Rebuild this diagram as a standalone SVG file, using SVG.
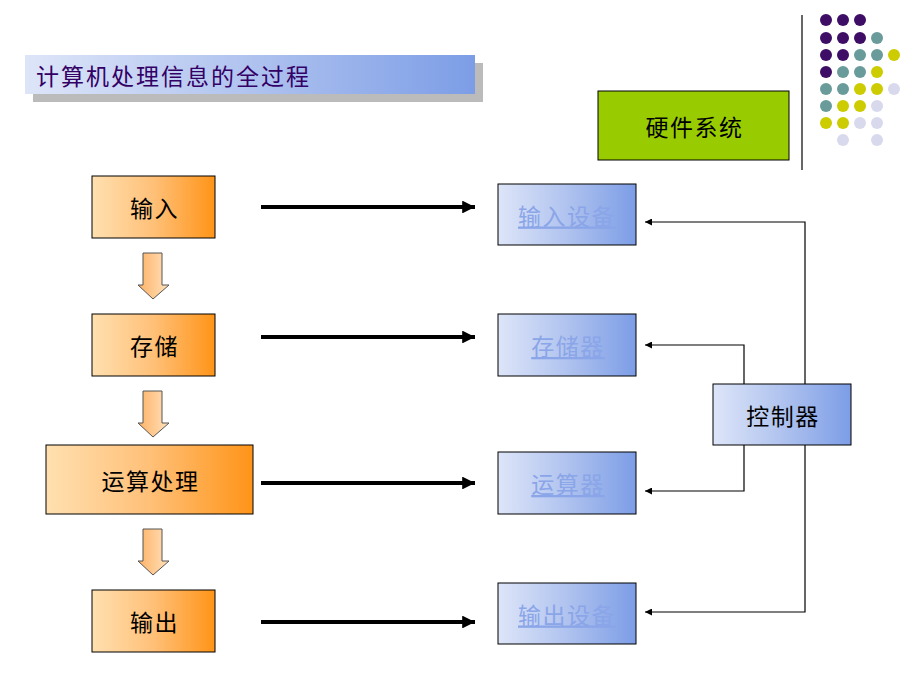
<svg xmlns="http://www.w3.org/2000/svg" width="920" height="690" viewBox="0 0 920 690">
<defs>
<linearGradient id="gOrange" x1="0" y1="0" x2="1" y2="0"><stop offset="0" stop-color="#FFE0B0"/><stop offset="0.5" stop-color="#FFC078"/><stop offset="1" stop-color="#FF9418"/></linearGradient>
<linearGradient id="gBlue" x1="0" y1="0" x2="1" y2="0"><stop offset="0" stop-color="#DDE5F8"/><stop offset="0.5" stop-color="#B0C3EF"/><stop offset="1" stop-color="#7C9DE6"/></linearGradient>
<linearGradient id="gArrow" x1="0" y1="0" x2="1" y2="0"><stop offset="0" stop-color="#FFB266"/><stop offset="1" stop-color="#FFE2BC"/></linearGradient>
<marker id="thick" viewBox="0 0 10 10" refX="10" refY="5" markerWidth="5" markerHeight="3.2" orient="auto" markerUnits="strokeWidth"><path d="M0,0 L10,5 L0,10 Z" fill="#000"/></marker>
<marker id="thin" viewBox="0 0 10 10" refX="10" refY="5" markerWidth="8" markerHeight="7" orient="auto" markerUnits="userSpaceOnUse"><path d="M0,0 L10,5 L0,10 Z" fill="#000"/></marker>
</defs>
<style>
.lbl{font-family:"Noto Sans CJK SC","Noto Sans",sans-serif;font-size:23px;letter-spacing:1.5px;text-anchor:middle;dominant-baseline:central}
.dark{fill:#000}
.link{fill:#8AA5E8;text-decoration:underline}
.obox{fill:url(#gOrange);stroke:#000;stroke-width:1}
.bbox{fill:url(#gBlue);stroke:#000;stroke-width:1}
.thickc{stroke:#000;stroke-width:4;fill:none;marker-end:url(#thick)}
.thinc{stroke:#000;stroke-width:1.2;fill:none;marker-end:url(#thin)}
.darr{fill:url(#gArrow);stroke:#555;stroke-width:1}
.p{fill:#3E0E66}.t{fill:#6A9B9B}.y{fill:#CCCC00}.l{fill:#D9D9EE}
</style>
<rect width="920" height="690" fill="#fff"/>
<g id="title">
<rect x="33" y="63" width="450" height="39" fill="#BBBBBB"/>
<rect x="25" y="55" width="450" height="39" fill="url(#gBlue)"/>
<text x="36" y="75" style="font-family:'Noto Sans CJK SC',sans-serif;font-size:23px;letter-spacing:2px;dominant-baseline:central;fill:#330066">计算机处理信息的全过程</text>
</g>
<g id="decor">
<line x1="802" y1="15" x2="802" y2="170" stroke="#000" stroke-width="1.2"/>
<circle class="p" cx="826" cy="20" r="6"/><circle class="p" cx="843" cy="20" r="6"/><circle class="p" cx="860" cy="20" r="6"/>
<circle class="p" cx="826" cy="38" r="6"/><circle class="p" cx="843" cy="38" r="6"/><circle class="p" cx="860" cy="38" r="6"/><circle class="t" cx="877" cy="38" r="6"/>
<circle class="p" cx="826" cy="55" r="6"/><circle class="p" cx="843" cy="55" r="6"/><circle class="t" cx="860" cy="55" r="6"/><circle class="t" cx="877" cy="55" r="6"/><circle class="y" cx="894" cy="55" r="6"/>
<circle class="p" cx="826" cy="72" r="6"/><circle class="t" cx="843" cy="72" r="6"/><circle class="t" cx="860" cy="72" r="6"/><circle class="y" cx="877" cy="72" r="6"/>
<circle class="t" cx="826" cy="89" r="6"/><circle class="t" cx="843" cy="89" r="6"/><circle class="y" cx="860" cy="89" r="6"/><circle class="y" cx="877" cy="89" r="6"/><circle class="l" cx="894" cy="89" r="6"/>
<circle class="t" cx="826" cy="106" r="6"/><circle class="y" cx="843" cy="106" r="6"/><circle class="y" cx="860" cy="106" r="6"/><circle class="l" cx="877" cy="106" r="6"/>
<circle class="y" cx="826" cy="123" r="6"/><circle class="y" cx="843" cy="123" r="6"/><circle class="l" cx="860" cy="123" r="6"/><circle class="l" cx="877" cy="123" r="6"/>
<circle class="l" cx="843" cy="140" r="6"/><circle class="l" cx="877" cy="140" r="6"/>
</g>
<g id="hardware">
<rect x="598" y="91" width="191" height="69" fill="#99CC00" stroke="#000" stroke-width="1"/>
<text class="lbl dark" x="694.5" y="125.5">硬件系统</text>
</g>
<g id="n-input"><rect class="obox" x="92" y="176" width="123" height="62"/><text class="lbl dark" x="154.5" y="207">输入</text></g>
<g id="n-store"><rect class="obox" x="92" y="314" width="123" height="62"/><text class="lbl dark" x="154.5" y="345">存储</text></g>
<g id="n-proc"><rect class="obox" x="46" y="445" width="207" height="69"/><text class="lbl dark" x="150.5" y="479.5">运算处理</text></g>
<g id="n-output"><rect class="obox" x="92" y="590" width="123" height="62"/><text class="lbl dark" x="154.5" y="621">输出</text></g>
<g id="n-indev"><rect class="bbox" x="498" y="184" width="138" height="61"/><text class="lbl link" x="567" y="214.5">输入设备</text></g>
<g id="n-mem"><rect class="bbox" x="498" y="314" width="138" height="62"/><text class="lbl link" x="568" y="345">存储器</text></g>
<g id="n-alu"><rect class="bbox" x="498" y="452" width="138" height="62"/><text class="lbl link" x="568" y="483">运算器</text></g>
<g id="n-outdev"><rect class="bbox" x="498" y="583" width="138" height="61"/><text class="lbl link" x="567" y="613.5">输出设备</text></g>
<g id="n-ctrl"><rect class="bbox" x="713" y="384" width="138" height="61"/><text class="lbl dark" x="783" y="414.5">控制器</text></g>
<g id="connectors">
<path class="darr" d="M143,253 H162 V285 H169 L153,299 L138,285 H143 Z"/>
<path class="darr" d="M143,391 H162 V423 H169 L153,437 L138,423 H143 Z"/>
<path class="darr" d="M143,529 H162 V561 H169 L153,575 L138,561 H143 Z"/>
<line class="thickc" x1="261" y1="207" x2="475" y2="207"/>
<line class="thickc" x1="261" y1="337" x2="475" y2="337"/>
<line class="thickc" x1="261" y1="483" x2="475" y2="483"/>
<line class="thickc" x1="261" y1="622" x2="475" y2="622"/>
<polyline class="thinc" points="805,384 805,222 645,222"/>
<polyline class="thinc" points="744,384 744,345 645,345"/>
<polyline class="thinc" points="744,445 744,491 645,491"/>
<polyline class="thinc" points="805,445 805,612 645,612"/>
</g>
</svg>
